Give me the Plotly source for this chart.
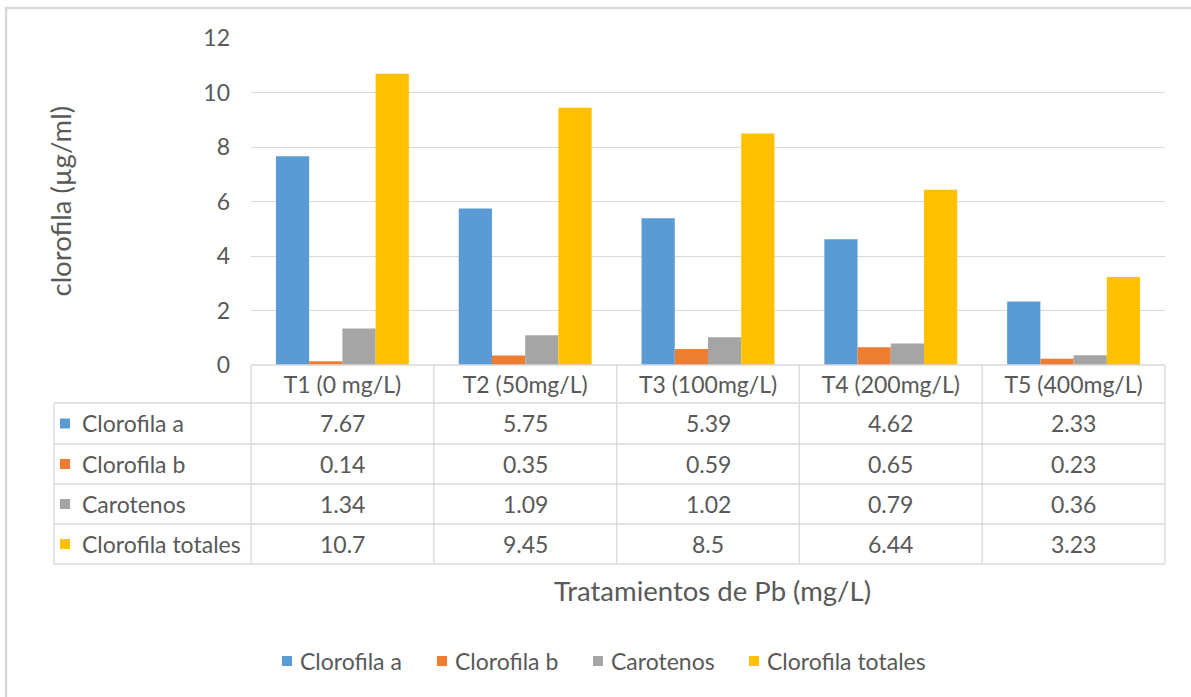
import plotly.graph_objects as go

# ---- data -------------------------------------------------------------
categories = ["T1 (0 mg/L)", "T2 (50mg/L)", "T3 (100mg/L)", "T4 (200mg/L)", "T5 (400mg/L)"]
series_names = ["Clorofila a", "Clorofila b", "Carotenos", "Clorofila totales"]
clorofila_a = [7.67, 5.75, 5.39, 4.62, 2.33]
clorofila_b = [0.14, 0.35, 0.59, 0.65, 0.23]
carotenos = [1.34, 1.09, 1.02, 0.79, 0.36]
clorofila_totales = [10.7, 9.45, 8.5, 6.44, 3.23]
y_ticks = [0, 2, 4, 6, 8, 10, 12]

series_values = [clorofila_a, clorofila_b, carotenos, clorofila_totales]
colors = ["#5B9BD5", "#ED7D31", "#A5A5A5", "#FFC000"]

# ---- geometry (pixels) ------------------------------------------------
W, H = 1191, 697
PLOT_L, PLOT_R, PLOT_T, PLOT_B = 251, 1165, 38, 365
TABLE_L = 54
ROW_EDGES = [365, 403, 444, 484, 524, 564]
LEGEND_Y = 661
LEGEND_KEY_X = [282, 437, 593, 749]   # left edge of each legend key
FONT = "Lato, Calibri, Carlito, sans-serif"
TXT = "#595959"
LINE = "#D9D9D9"
BODY_SIZE = 23
TITLE_SIZE = 27.5


def px(x):
    return x / W


def py(y):
    return 1 - y / H


fig = go.Figure()
for name, vals, col in zip(series_names, series_values, colors):
    fig.add_trace(go.Bar(
        name=name, x=categories, y=vals, showlegend=False,
        marker=dict(color=col, line=dict(width=0)),
    ))

shapes = []
annotations = []


def key_square(x0, yc, col, size=10):
    return dict(type="rect", xref="paper", yref="paper",
                x0=px(x0), x1=px(x0 + size), y0=py(yc + size / 2), y1=py(yc - size / 2),
                fillcolor=col, line=dict(width=0))


def label(text, x, yc):
    return dict(text=text, xref="paper", yref="paper", x=px(x), y=py(yc),
                xanchor="left", yanchor="middle", showarrow=False,
                font=dict(family=FONT, size=BODY_SIZE, color=TXT))


# outer chart frame
shapes.append(dict(type="rect", xref="paper", yref="paper",
                   x0=px(6), x1=px(1205), y0=py(712), y1=py(8),
                   line=dict(color=LINE, width=2.5), layer="below"))

# data table grid: horizontal lines
shapes.append(dict(type="line", xref="paper", yref="paper",
                   x0=px(PLOT_L), x1=px(PLOT_R), y0=py(ROW_EDGES[0]), y1=py(ROW_EDGES[0]),
                   line=dict(color=LINE, width=1.3)))
for yy in ROW_EDGES[1:]:
    shapes.append(dict(type="line", xref="paper", yref="paper",
                       x0=px(TABLE_L), x1=px(PLOT_R), y0=py(yy), y1=py(yy),
                       line=dict(color=LINE, width=1.3)))
# vertical lines
col_w = (PLOT_R - PLOT_L) / len(categories)
for i in range(len(categories) + 1):
    xx = PLOT_L + i * col_w
    shapes.append(dict(type="line", xref="paper", yref="paper",
                       x0=px(xx), x1=px(xx), y0=py(ROW_EDGES[0]), y1=py(ROW_EDGES[-1]),
                       line=dict(color=LINE, width=1.3)))
shapes.append(dict(type="line", xref="paper", yref="paper",
                   x0=px(TABLE_L), x1=px(TABLE_L), y0=py(ROW_EDGES[1]), y1=py(ROW_EDGES[-1]),
                   line=dict(color=LINE, width=1.3)))

# table rows: legend key, series name and values
for r, (name, vals, col) in enumerate(zip(series_names, series_values, colors)):
    yc = (ROW_EDGES[r + 1] + ROW_EDGES[r + 2]) / 2
    shapes.append(key_square(60, yc, col))
    annotations.append(label(name, 80, yc))
    for cat, v in zip(categories, vals):
        annotations.append(dict(text=str(v), xref="x", yref="paper",
                                x=cat, y=py(yc), xanchor="center", yanchor="middle",
                                showarrow=False, font=dict(family=FONT, size=BODY_SIZE, color=TXT)))

# legend below the chart
for kx, name, col in zip(LEGEND_KEY_X, series_names, colors):
    shapes.append(key_square(kx, LEGEND_Y, col))
    annotations.append(label(name, kx + 16, LEGEND_Y))

# axis titles
annotations.append(dict(text="clorofila (µg/ml)", xref="paper", yref="paper",
                        x=px(60), y=py((PLOT_T + PLOT_B) / 2), textangle=-90,
                        xanchor="center", yanchor="middle", showarrow=False,
                        font=dict(family=FONT, size=TITLE_SIZE, color=TXT)))
annotations.append(dict(text="Tratamientos de Pb (mg/L)", xref="paper", yref="paper",
                        x=px(712), y=py(590), xanchor="center", yanchor="middle",
                        showarrow=False, font=dict(family=FONT, size=TITLE_SIZE, color=TXT)))

fig.update_layout(
    width=W, height=H,
    margin=dict(l=0, r=0, t=0, b=0, autoexpand=False),
    paper_bgcolor="white", plot_bgcolor="white",
    barmode="group", bargap=0.273, bargroupgap=0,
    showlegend=False,
    font=dict(family=FONT, size=BODY_SIZE, color=TXT),
    xaxis=dict(domain=[px(PLOT_L), px(PLOT_R)], showgrid=False, zeroline=False,
               showline=False, ticks="", automargin=False,
               tickfont=dict(family=FONT, size=BODY_SIZE, color=TXT),
               ticklabelstandoff=4),
    yaxis=dict(domain=[py(PLOT_B), py(PLOT_T)], range=[0, 12.01], tickvals=y_ticks,
               showgrid=True, gridcolor=LINE, gridwidth=1.3, zeroline=False,
               showline=False, ticks="", ticklabelstandoff=20, automargin=False,
               tickfont=dict(family=FONT, size=BODY_SIZE, color=TXT)),
    shapes=shapes,
    annotations=annotations,
)

fig.write_html("out.html")
